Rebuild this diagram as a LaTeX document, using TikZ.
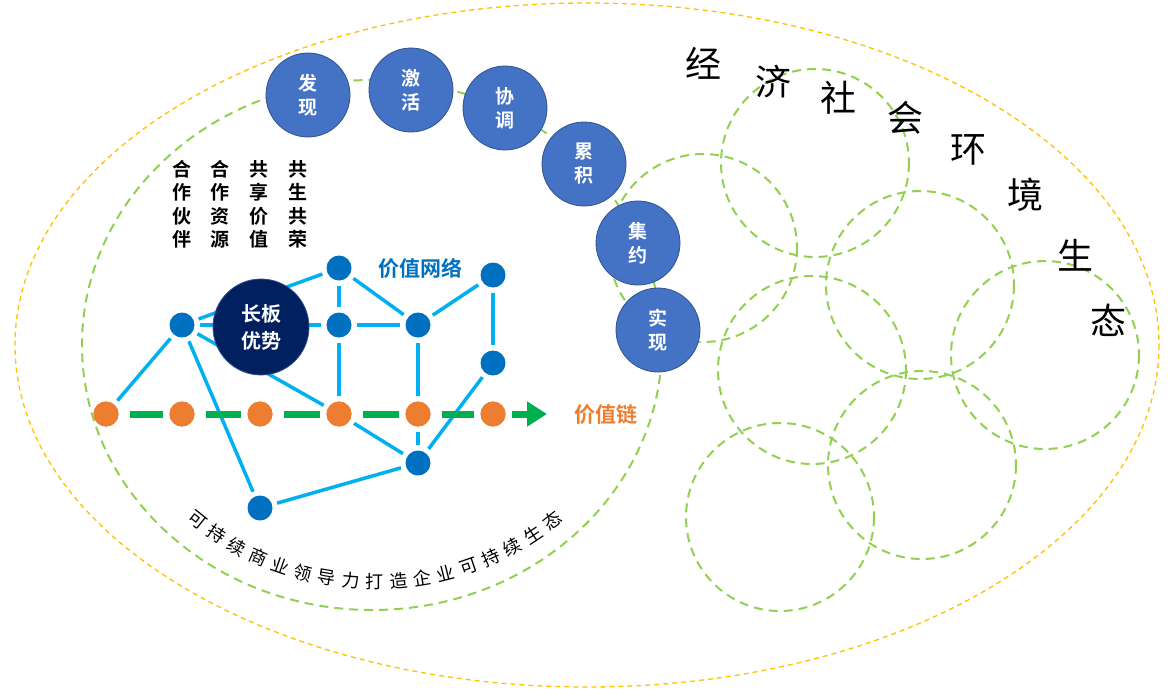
\documentclass[tikz,border=0pt]{standalone}
\usepackage{fontspec}
\setmainfont{Noto Sans CJK SC}
\newfontfamily\cjkb{Noto Sans CJK SC Bold}
\usetikzlibrary{arrows.meta}
\definecolor{bub}{HTML}{4472C4}
\definecolor{bubd}{HTML}{2F528F}
\definecolor{nb}{HTML}{0070C0}
\definecolor{ln}{HTML}{00B0F0}
\definecolor{og}{HTML}{ED7D31}
\definecolor{gd}{HTML}{92D050}
\definecolor{gc}{HTML}{00B050}
\definecolor{yd}{HTML}{FFC000}
\definecolor{navy}{HTML}{002060}
\tikzset{
  bubble/.style={circle,fill=bub,draw=bubd,line width=0.8pt,minimum size=84pt,inner sep=0pt,text=white,font=\cjkb\fontsize{19}{24}\selectfont,align=center},
  bdot/.style={circle,fill=nb,minimum size=25pt,inner sep=0pt},
  odot/.style={circle,fill=og,minimum size=25pt,inner sep=0pt},
  net/.style={ln,line width=3.5pt,shorten <=5pt,shorten >=5pt},
  gdash/.style={gd,line width=2pt,dash pattern=on 9pt off 6pt},
  vt/.style={font=\cjkb\fontsize{19}{23.5}\selectfont,align=center,anchor=north,inner sep=0pt},
  big/.style={font=\fontsize{36}{40}\selectfont,inner sep=0pt}
}
\begin{document}
\begin{tikzpicture}[x=1pt,y=-1pt]
\useasboundingbox (0,0) rectangle (1170,697);
\draw[yd,line width=1.3pt,dash pattern=on 5pt off 4pt] (587,345) ellipse [x radius=572,y radius=342];
\draw[gdash] (372,345) ellipse [x radius=290,y radius=265];
\foreach \cx/\cy in {815/163,703/248,920/285,1045/355,812/370,922/465,780/517}
  \draw[gdash] (\cx,\cy) circle (94);
% title arc
\foreach \c/\x/\y in {经/703/63,济/773/82,社/838/98,会/905/118,环/968/150,境/1025/195,生/1075/255,态/1108/320}
  \node[big] at (\x,\y) {\c};
% bubbles
\node[bubble] (b1) at (308,95) {发\\现};
\node[bubble] (b2) at (411,90) {激\\活};
\node[bubble] (b3) at (505,108) {协\\调};
\node[bubble] (b4) at (584,164) {累\\积};
\node[bubble] (b5) at (638,243) {集\\约};
\node[bubble] (b6) at (658,330) {实\\现};
% vertical texts
\node[vt] (t1) at (182,160) {合\\作\\伙\\伴};
\node[vt] (t2) at (220,160) {合\\作\\资\\源};
\node[vt] (t3) at (259,160) {共\\享\\价\\值};
\node[vt] (t4) at (298,160) {共\\生\\共\\荣};
% network nodes
\node[bdot] (A) at (182,325) {};
\node[bdot] (B) at (339,268) {};
\node[bdot] (C) at (339,325) {};
\node[bdot] (D) at (418,325) {};
\node[bdot] (E) at (493,275) {};
\node[bdot] (F) at (493,363) {};
\node[bdot] (G) at (418,463) {};
\node[bdot] (H) at (260,508) {};
\node[odot] (O1) at (106,414) {};
\node[odot] (O2) at (182,414) {};
\node[odot] (O3) at (260,414) {};
\node[odot] (O4) at (339,414) {};
\node[odot] (O5) at (418,414) {};
\node[odot] (O6) at (493,414) {};
\coordinate (end) at (547,414);
\foreach \a/\b in {A/O1,A/H,A/B,A/C,A/O4,B/C,B/D,C/D,C/O4,D/O5,D/E,E/F,F/G,O5/G,O4/G,G/H}
  \draw[net] (\a) -- (\b);
\node[circle,fill=navy,draw=bubd,line width=0.8pt,minimum size=96pt,inner sep=0pt,text=white,font=\cjkb\fontsize{20}{27}\selectfont,align=center] (LB) at (261,327) {长板\\优势};
\foreach \a/\b in {O1/O2,O2/O3,O3/O4,O4/O5,O5/O6}
  \draw[gc,line width=7pt,dash pattern=on 38pt off 8pt,dash phase=-5pt,shorten <=6pt,shorten >=6pt] (\a) -- (\b);
\draw[gc,line width=7pt,shorten <=6pt,-{Triangle[length=20pt,width=24pt]}] (O6) -- (end);
\foreach \n/\x in {O1/106,O2/182,O3/260,O4/339,O5/418,O6/493} \fill[og] (\x,414) circle (12.5);
\node[text=nb,font=\cjkb\fontsize{21}{23}\selectfont] (vn) at (420,268) {价值网络};
\node[text=og,font=\cjkb\fontsize{21}{23}\selectfont] (vc) at (606,415) {价值链};
% bottom arc text
\foreach \c [count=\i from 0] in {可,持,续,商,业,领,导,力,打,造,企,业,可,持,续,生,态}{
  \pgfmathsetmacro\t{128.5-\i*4.8}
  \pgfmathsetmacro\r{90-\t}
  \node[font=\fontsize{18}{20}\selectfont,rotate=\r,inner sep=0pt] at ({375+286*cos(\t)},{296+286*sin(\t)}) {\c};
}
\end{tikzpicture}
\end{document}
